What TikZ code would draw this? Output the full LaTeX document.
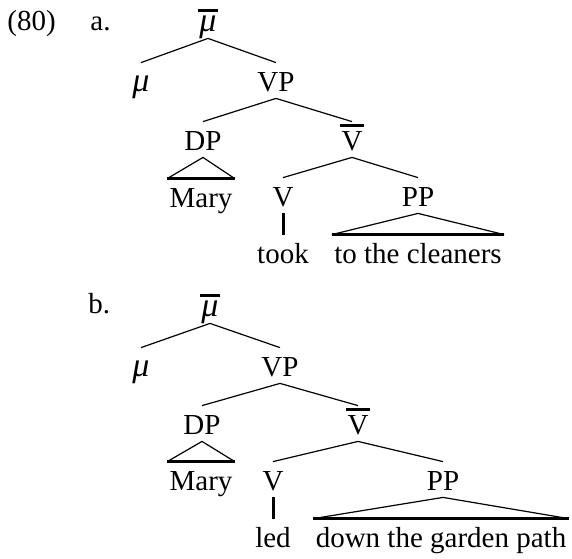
\documentclass[tikz,border=0pt]{standalone}
\usepackage{fontspec}
\setmainfont{Liberation Serif}
\usepackage{tikz}

% category with a bar over it
\newcommand{\barcat}[1]{\vbox{\hrule height 1.5pt\kern 1.8pt\hbox{\kern0.6pt#1\kern0.6pt}}}
\newcommand{\mucat}{{\fontsize{17}{17}\selectfont\itshape μ}}

\begin{document}
\begin{tikzpicture}[x=0.5pt, y=-0.5pt,
  every node/.style={font=\fontsize{14.5}{17}\selectfont},
  cat/.style={anchor=base, inner sep=1pt, text height=13pt, text depth=2.5pt},
  exlabel/.style={anchor=base west, inner sep=0pt},
  branch/.style={draw, line width=0.6pt},
  roofbase/.style={draw, line width=1.5pt},
  stem/.style={draw, line width=1.5pt}]

  \useasboundingbox (0,0) rectangle (572,558);

  \node [exlabel] (num) at (7,30) {(80)};
  \node [exlabel] (labA) at (90,30) {a.};
  \node [exlabel] (labB) at (88,313) {b.};

  % (a)
  \node [cat] (mubarA) at (208,31) {\barcat{\mucat}};
  \node [cat] (muA) at (141,91) {\mucat};
  \node [cat] (VPA) at (276,91) {VP};
  \node [cat] (DPA) at (203,150) {DP};
  \node [cat] (VbarA) at (352,150) {\barcat{V}};
  \node [cat] (MaryA) at (201,207) {Mary};
  \node [cat] (VA) at (283,206) {V};
  \node [cat] (PPA) at (418,206) {PP};
  \node [cat] (tookA) at (283,263) {took};
  \node [cat] (cleanersA) at (418,263) {to the cleaners};

  \path [branch] (mubarA.south) -- (muA.north);
  \path [branch] (mubarA.south) -- (VPA.north);
  \path [branch] (VPA.south) -- (DPA.north);
  \path [branch] (VPA.south) -- (VbarA.north);
  \path [branch] (VbarA.south) -- (VA.north);
  \path [branch] (VbarA.south) -- (PPA.north);
  \path [branch] (MaryA.north west) -- (DPA.south) -- (MaryA.north east);
  \path [roofbase] (MaryA.north west) -- (MaryA.north east);
  \path [stem] (VA.south) -- (tookA.north);
  \path [branch] (cleanersA.north west) -- (PPA.south) -- (cleanersA.north east);
  \path [roofbase] (cleanersA.north west) -- (cleanersA.north east);

  % (b)
  \node [cat] (mubarB) at (210,316) {\barcat{\mucat}};
  \node [cat] (muB) at (141,376) {\mucat};
  \node [cat] (VPB) at (280,376) {VP};
  \node [cat] (DPB) at (202,434) {DP};
  \node [cat] (VbarB) at (358,434) {\barcat{V}};
  \node [cat] (MaryB) at (201,490) {Mary};
  \node [cat] (VB) at (273,490) {V};
  \node [cat] (PPB) at (443,490) {PP};
  \node [cat] (ledB) at (273,547) {led};
  \node [cat] (gardenB) at (441,547) {down the garden path};

  \path [branch] (mubarB.south) -- (muB.north);
  \path [branch] (mubarB.south) -- (VPB.north);
  \path [branch] (VPB.south) -- (DPB.north);
  \path [branch] (VPB.south) -- (VbarB.north);
  \path [branch] (VbarB.south) -- (VB.north);
  \path [branch] (VbarB.south) -- (PPB.north);
  \path [branch] (MaryB.north west) -- (DPB.south) -- (MaryB.north east);
  \path [roofbase] (MaryB.north west) -- (MaryB.north east);
  \path [stem] (VB.south) -- (ledB.north);
  \path [branch] (gardenB.north west) -- (PPB.south) -- (gardenB.north east);
  \path [roofbase] (gardenB.north west) -- (gardenB.north east);
\end{tikzpicture}
\end{document}
